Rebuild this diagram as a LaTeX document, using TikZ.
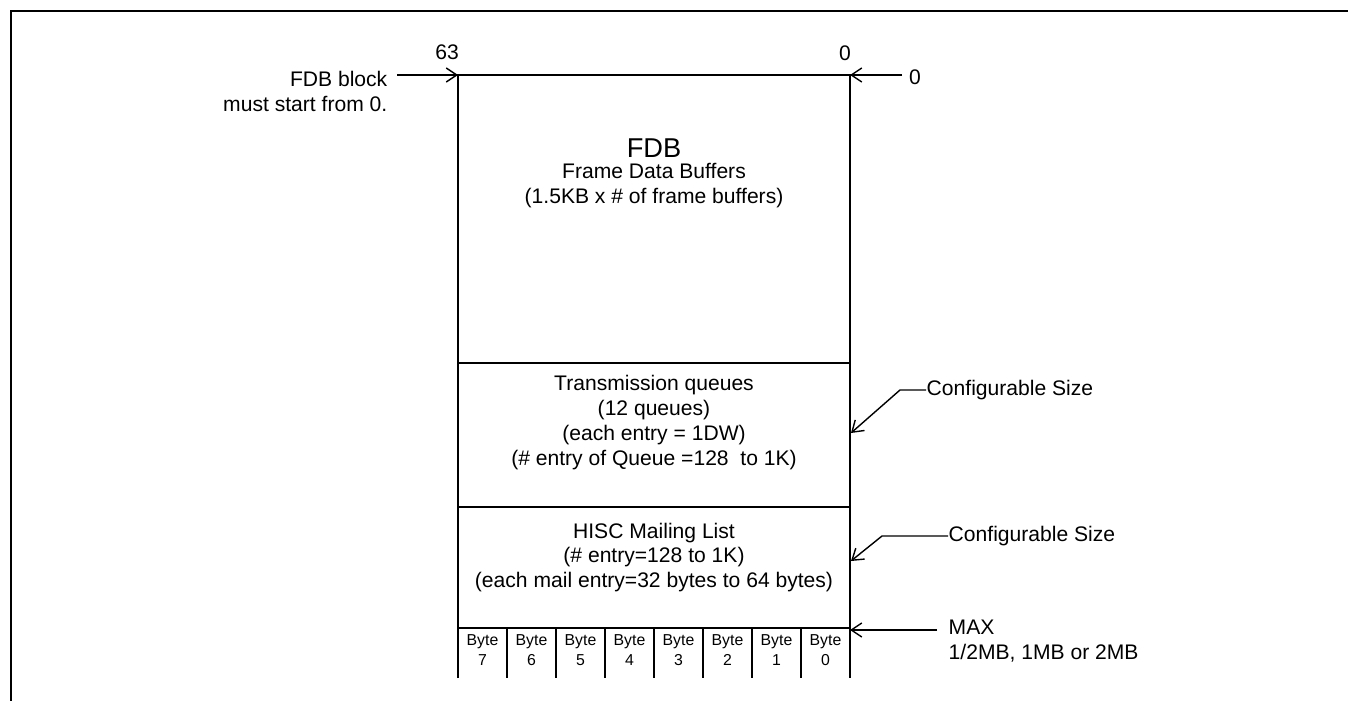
\documentclass[tikz,border=0pt]{standalone}
\usepackage{fontspec}
\setmainfont{Liberation Sans}
\usetikzlibrary{arrows.meta}

\begin{document}
\begin{tikzpicture}[x=0.2mm,y=-0.2mm,line width=0.8pt,>={Straight Barb[length=6pt,width=8pt]},
  lbl/.style={font=\fontsize{12}{14.2}\selectfont,inner sep=0pt},
  bytelbl/.style={font=\fontsize{9}{11}\selectfont,align=center,inner sep=0pt}]
\useasboundingbox (0,0) rectangle (1348,701);
% 外框
\draw[line width=1.7pt] (11,701) -- (11,11) -- (1348,11);
% 存储区（底部开口）
\coordinate (tl) at (458,75);
\coordinate (tr) at (850,75);
\draw (458,678) -- (tl) -- (tr) -- (850,678);
\draw (458,363) -- (850,363);
\draw (458,507) -- (850,507);
\draw (458,628) -- (850,628);
% 字节列
\foreach \i in {1,...,7}
  \draw (458+49*\i,628) -- (458+49*\i,678);
\foreach \i in {0,...,7}
  \node[bytelbl] (byte\i) at (825.5-49*\i,650) {Byte\\\i};
% 区域文字
\node[lbl,font=\fontsize{15.5}{18}\selectfont] (fdbtitle) at (654,148) {FDB};
\node[lbl,align=center] (fdbtxt) at (654,185.5) {Frame Data Buffers\\(1.5KB x \# of frame buffers)};
\node[lbl,align=center] (txqtxt) at (654,422.5) {Transmission queues\\(12 queues)\\(each entry = 1DW)\\(\# entry of Queue =128\ \ to 1K)};
\node[lbl,align=center] (hisctxt) at (654,557.5) {HISC Mailing List\\(\# entry=128 to 1K)\\(each mail entry=32 bytes to 64 bytes)};
% 位号与地址
\node[lbl] (bit63) at (447,52) {63};
\node[lbl] (bit0) at (845,53) {0};
\node[lbl] (addr0) at (915,77) {0};
\coordinate (addrfrom) at (902,75);
\draw[->] (addrfrom) -- (tr);
% FDB 起始说明
\node[lbl,align=right,anchor=east] (fdbnote) at (388,91) {FDB block\\must start from 0.};
\coordinate (fdbfrom) at (397,75);
\draw[->] (fdbfrom) -- (tl);
% 可配置大小
\node[lbl,anchor=west] (cfg1) at (926,390) {Configurable Size};
\coordinate (cfgtip1) at (851,433);
\draw[->] (cfg1.west) -- ++(-26,0) -- (cfgtip1);
\node[lbl,anchor=west] (cfg2) at (948,536) {Configurable Size};
\coordinate (cfgtip2) at (851,561);
\draw[->] (cfg2.west) -- ++(-66,0) -- (cfgtip2);
% 最大容量
\node[lbl,align=left,anchor=west] (maxlbl) at (948,641.5) {MAX\\1/2MB, 1MB or 2MB};
\coordinate (maxfrom) at (937,630);
\draw[->] (maxfrom) -- (850,630);
\end{tikzpicture}
\end{document}
